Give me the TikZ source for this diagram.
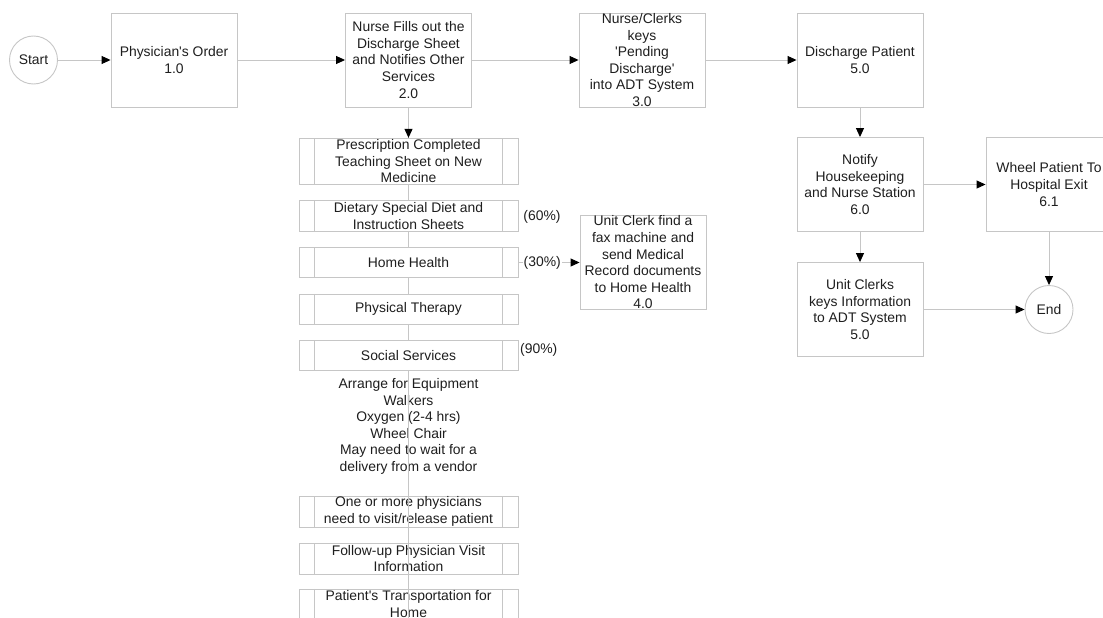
\documentclass[tikz,border=0pt]{standalone}
\usepackage{fontspec}
\setmainfont{Liberation Sans}[Ligatures=TeXOff]
\usetikzlibrary{arrows.meta}
\definecolor{ln}{HTML}{C6C6C6}
\definecolor{tx}{HTML}{1E1E1E}
\begin{document}
\begin{tikzpicture}[x=1pt,y=-1pt,
  every node/.style={text=tx, font=\fontsize{13.9}{16.6}\selectfont},
  proc/.style={draw=ln, line width=0.9pt, minimum width=126pt, minimum height=94pt, inner sep=0pt, align=center},
  term/.style={circle, draw=ln, line width=0.9pt, minimum size=48pt, inner sep=0pt},
  item/.style={draw=ln, line width=0.9pt, minimum width=219pt, minimum height=30.5pt, inner sep=0pt, align=center,
    path picture={
      \draw[ln, line width=0.9pt] ([xshift=15.5pt]path picture bounding box.north west) -- ([xshift=15.5pt]path picture bounding box.south west);
      \draw[ln, line width=0.9pt] ([xshift=-15.5pt]path picture bounding box.north east) -- ([xshift=-15.5pt]path picture bounding box.south east);}},
  plain/.style={align=center, inner sep=0pt},
  conn/.style={draw=ln, line width=0.9pt},
  arr/.style={conn, -{Triangle[length=9pt,width=8pt,color=black]}}
]
\useasboundingbox (0,0) rectangle (1103,618);
\clip (0,0) rectangle (1103,618);

% top row
\node[term] (start) at (33.5,60) {Start};
\node[proc] (p1) at (174,60) {Physician's Order\\1.0};
\node[proc] (p2) at (408.5,60) {Nurse Fills out the\\Discharge Sheet\\and Notifies Other\\Services\\2.0};
\node[proc] (p3) at (642,60) {Nurse/Clerks\\keys\\'Pending\\Discharge'\\into ADT System\\3.0};
\node[proc] (p5) at (860,60) {Discharge Patient\\5.0};

% right part
\node[proc] (p6) at (860,184.5) {Notify\\Housekeeping\\and Nurse Station\\6.0};
\node[proc] (p61) at (1049,184.5) {Wheel Patient To\\Hospital Exit\\6.1};
\node[proc] (p5b) at (860,309.5) {Unit Clerks\\keys Information\\to ADT System\\5.0};
\node[term] (end) at (1049,309.5) {End};
\node[proc] (p4) at (643,262.5) {Unit Clerk find a\\fax machine and\\send Medical\\Record documents\\to Home Health\\4.0};

% left list
\node[item, minimum height=46pt] (iA) at (408.5,161.3) {Prescription Completed\\Teaching Sheet on New\\Medicine};
\node[item] (iB) at (408.5,215.8) {Dietary Special Diet and\\Instruction Sheets};
\node[item] (iC) at (408.5,262.5) {Home Health};
\node[item] (iD) at (408.5,309.2) {Physical Therapy};
\node[item] (iE) at (408.5,355.3) {Social Services};
\node[plain] (tx) at (408.5,426.5) {Arrange for Equipment\\Walkers\\Oxygen (2-4 hrs)\\Wheel Chair\\May need to wait for a\\delivery from a vendor};
\node[item] (iF) at (408.5,511.7) {One or more physicians\\need to visit/release patient};
\node[item] (iG) at (408.5,558.7) {Follow-up Physician Visit\\Information};
\node[item] (iH) at (408.5,604.2) {Patient's Transportation for\\Home};

\node[plain] (l60) at (542,216.5) {(60\%)};
\node[plain] (l90) at (538.7,350) {(90\%)};

% connectors
\draw[arr] (start) -- (p1);
\draw[arr] (p1) -- (p2);
\draw[arr] (p2) -- (p3);
\draw[arr] (p3) -- (p5);
\draw[arr] (p5) -- (p6);
\draw[arr] (p6) -- (p61);
\draw[arr] (p6) -- (p5b);
\draw[arr] (p61) -- (end);
\draw[arr] (p5b) -- (end);
\draw[arr] (p2) -- (iA);
\draw[conn] (iA) -- (iB);
\draw[conn] (iB) -- (iC);
\draw[conn] (iC) -- (iD);
\draw[conn] (iD) -- (iE);
\draw[conn] (iE.south) -- (iH.south);
\draw[arr] (iC) -- node[pos=0.39, fill=white, inner sep=1pt] (l30) {(30\%)} (p4);
\end{tikzpicture}
\end{document}
